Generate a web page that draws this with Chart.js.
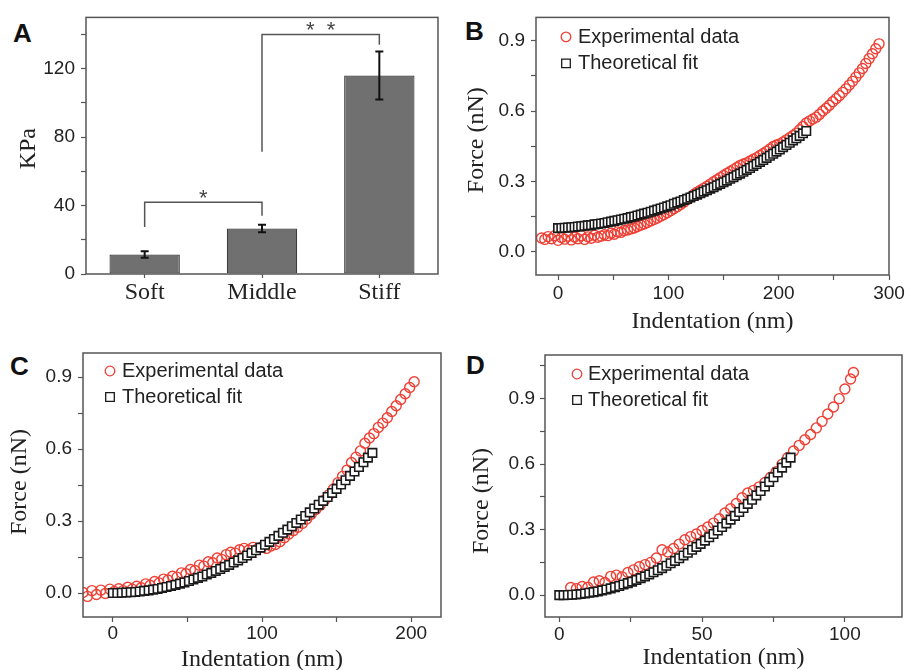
<!DOCTYPE html>
<html>
<head>
<meta charset="utf-8">
<script src="https://cdn.jsdelivr.net/npm/chart.js@4/dist/chart.umd.min.js"></script>
<style>
  html, body { margin: 0; padding: 0; background: #fff; width: 905px; height: 670px; overflow: hidden; }
  canvas { position: absolute; }
  .tag { position: absolute; font: bold 26px "Liberation Sans", Arial, sans-serif; line-height: 1; color: #111; }
</style>
</head>
<body>
<div class="tag" style="left:13px;top:20px">A</div>
<div class="tag" style="left:465px;top:18px">B</div>
<div class="tag" style="left:10px;top:353px">C</div>
<div class="tag" style="left:466px;top:352px">D</div>

<canvas id="chartA" width="434" height="314" style="left:14px;top:0px"></canvas>
<canvas id="chartB" width="447" height="336" style="left:462px;top:0px"></canvas>
<canvas id="chartC" width="456" height="344" style="left:5px;top:330px"></canvas>
<canvas id="chartD" width="455" height="342" style="left:467px;top:330px"></canvas>

<script>
// Panel A - stiffness of the three substrates
const kpaCategories = ['Soft', 'Middle', 'Stiff'];
const kpaMean = [11.4, 26.6, 116];
const kpaError = [1.9, 2.2, 14];
const kpaTicks = [0, 20, 40, 60, 80, 100, 120, 140];
const kpaLabels = [0, 40, 80, 120];

// significance brackets (category pairs, bar-height values)
const sigPairs = [[0, 1], [1, 2]];
const sigTop = [42, 140];
const sigLegs = [[27.5, 34], [71.5, 134]];
const sigMarks = ['*', '*  *'];

// force axis, shared by B, C, D
const forceTicks = [0, 0.15, 0.3, 0.45, 0.6, 0.75, 0.9];
const forceTicksD = [0, 0.15, 0.3, 0.45, 0.6, 0.75, 0.9, 1.05];
const forceLabels = [0, 0.3, 0.6, 0.9];

// indentation axes
const bIndentTicks = [0, 50, 100, 150, 200, 250, 300];
const bIndentLabels = [0, 100, 200, 300];
const cIndentTicks = [0, 50, 100, 150, 200];
const cIndentLabels = [0, 100, 200];
const dIndentTicks = [0, 25, 50, 75, 100];
const dIndentLabels = [0, 50, 100];

const seriesNames = ['Experimental data', 'Theoretical fit'];

// Panel B  [indentation nm, force nN]
const bExperimental = [
  [-15,.058],[-12,.052],[-9,.064],[-6,.055],[-3,.068],[0,.048],[3,.060],[6,.053],[9,.066],[12,.050],
  [15,.062],[18,.055],[21,.068],[24,.052],[27,.063],[30,.057],[33,.070],[36,.061],[39,.066],[42,.072],
  [45,.068],[48,.078],[51,.074],[54,.084],[57,.082],[60,.090],[63,.092],[66,.097],[69,.101],[72,.107],
  [75,.113],[78,.118],[81,.124],[84,.131],[87,.137],[90,.143],[93,.151],[96,.158],[99,.166],[102,.174],
  [105,.183],[108,.192],[111,.201],[114,.211],[117,.221],[120,.232],[123,.244],[126,.254],[129,.262],[132,.270],
  [135,.279],[138,.288],[141,.298],[144,.307],[147,.316],[150,.325],[153,.334],[156,.342],[159,.350],[162,.359],
  [165,.368],[168,.374],[171,.379],[174,.387],[177,.394],[180,.401],[183,.410],[186,.419],[189,.428],[192,.438],
  [195,.449],[198,.455],[201,.460],[204,.468],[207,.477],[210,.486],[213,.496],[216,.506],[219,.520],[222,.534],
  [225,.549],[228,.558],[231,.566],[234,.574],[237,.586],[240,.600],[243,.612],[246,.625],[249,.640],[252,.653],
  [255,.666],[258,.680],[261,.695],[264,.711],[267,.727],[270,.745],[273,.763],[276,.782],[279,.803],[282,.824],
  [285,.845],[288,.866],[291,.887]
];
const bTheoretical = [
  [0,.100],[3,.101],[6,.102],[9,.103],[12,.104],[15,.105],[18,.107],[21,.108],[24,.110],[27,.112],
  [30,.113],[33,.116],[36,.118],[39,.120],[42,.122],[45,.125],[48,.128],[51,.131],[54,.134],[57,.137],
  [60,.140],[63,.143],[66,.147],[69,.150],[72,.154],[75,.158],[78,.162],[81,.166],[84,.170],[87,.175],
  [90,.179],[93,.184],[96,.188],[99,.193],[102,.198],[105,.204],[108,.209],[111,.214],[114,.220],[117,.225],
  [120,.231],[123,.237],[126,.243],[129,.249],[132,.256],[135,.262],[138,.269],[141,.275],[144,.282],[147,.289],
  [150,.296],[153,.303],[156,.311],[159,.318],[162,.326],[165,.333],[168,.341],[171,.349],[174,.357],[177,.366],
  [180,.374],[183,.383],[186,.391],[189,.400],[192,.409],[195,.418],[198,.427],[201,.436],[204,.446],[207,.455],
  [210,.465],[213,.475],[216,.484],[219,.494],[222,.505],[225,.515]
];

// Panel C
const cExperimental = [
  [-20,.002],[-17,-.014],[-14,.010],[-11,-.006],[-8,.012],[-5,-.002],[-2,.016],[1,.006],[4,.018],[7,.010],
  [10,.024],[13,.016],[16,.028],[19,.022],[22,.038],[25,.032],[28,.048],[31,.042],[34,.058],[37,.054],
  [40,.070],[43,.066],[46,.084],[49,.080],[52,.098],[55,.094],[58,.116],[61,.112],[64,.130],[67,.126],
  [70,.146],[73,.140],[76,.160],[79,.170],[82,.166],[85,.180],[88,.186],[91,.178],[94,.190],[97,.184],
  [100,.192],[103,.186],[106,.196],[109,.202],[112,.214],[115,.230],[118,.246],[121,.260],[124,.274],[127,.290],
  [130,.308],[133,.328],[136,.348],[139,.366],[142,.388],[145,.410],[148,.434],[151,.460],[154,.486],[157,.512],
  [160,.544],[163,.566],[166,.592],[169,.624],[172,.646],[175,.664],[178,.690],[181,.708],[184,.730],[187,.756],
  [190,.780],[193,.806],[196,.830],[199,.856],[202,.880]
];
const cTheoretical = [
  [0,.000],[3,.000],[6,.001],[9,.002],[12,.003],[15,.004],[18,.006],[21,.009],[24,.011],[27,.014],
  [30,.017],[33,.021],[36,.025],[39,.029],[42,.034],[45,.039],[48,.044],[51,.050],[54,.056],[57,.063],
  [60,.069],[63,.077],[66,.084],[69,.092],[72,.100],[75,.109],[78,.117],[81,.127],[84,.136],[87,.146],
  [90,.156],[93,.167],[96,.178],[99,.189],[102,.201],[105,.213],[108,.225],[111,.238],[114,.251],[117,.264],
  [120,.278],[123,.292],[126,.306],[129,.321],[132,.336],[135,.352],[138,.368],[141,.384],[144,.400],[147,.417],
  [150,.434],[153,.452],[156,.470],[159,.488],[162,.506],[165,.525],[168,.545],[171,.564],[174,.584]
];

// Panel D
const dExperimental = [
  [4,.035],[6,.030],[8,.040],[10,.036],[12,.060],[14,.066],[16,.058],[18,.086],[20,.092],[22,.084],
  [24,.104],[26,.116],[28,.130],[30,.140],[32,.150],[34,.170],[36,.208],[38,.198],[40,.214],[42,.234],
  [44,.254],[46,.268],[48,.280],[50,.296],[52,.312],[54,.330],[56,.350],[58,.376],[60,.396],[62,.420],
  [64,.446],[66,.468],[68,.480],[70,.496],[72,.516],[74,.540],[76,.566],[78,.600],[80,.630],[82,.660],
  [84,.686],[86,.712],[88,.736],[90,.766],[92,.796],[94,.830],[96,.862],[98,.900],[100,.944],[102,.990],
  [103,1.020]
];
const dTheoretical = [
  [0,.000],[1.5,.000],[3,.001],[4.5,.002],[6,.003],[7.5,.005],[9,.008],[10.5,.011],[12,.014],[13.5,.017],
  [15,.022],[16.5,.026],[18,.031],[19.5,.037],[21,.042],[22.5,.049],[24,.055],[25.5,.062],[27,.070],[28.5,.078],
  [30,.086],[31.5,.095],[33,.105],[34.5,.114],[36,.124],[37.5,.135],[39,.146],[40.5,.157],[42,.169],[43.5,.182],
  [45,.194],[46.5,.208],[48,.221],[49.5,.235],[51,.250],[52.5,.265],[54,.280],[55.5,.296],[57,.312],[58.5,.329],
  [60,.346],[61.5,.363],[63,.381],[64.5,.399],[66,.418],[67.5,.437],[69,.457],[70.5,.477],[72,.498],[73.5,.519],
  [75,.540],[76.5,.562],[78,.584],[79.5,.607],[81,.630]
];

const SANS = '"Liberation Sans", Arial, sans-serif';
const SERIF = '"Liberation Serif", "Times New Roman", serif';
const INK = '#222';
const AXIS = '#555';
const RED = '#ee4035';

function toPoints(rows) {
    return rows.map(r => ({ x: r[0], y: r[1] }));
}

// box around the plot area, like the original figure
const frameBox = {
    id: 'frameBox',
    afterDatasetsDraw(chart) {
        const a = chart.chartArea;
        const ctx = chart.ctx;
        ctx.save();
        ctx.strokeStyle = AXIS;
        ctx.lineWidth = 1.5;
        ctx.strokeRect(a.left, a.top, a.right - a.left, a.bottom - a.top);
        ctx.restore();
    }
};

// legend drawn inside the plot, top left
const insideLegend = {
    id: 'insideLegend',
    afterDatasetsDraw(chart, args, opts) {
        if (!opts.show) return;
        const a = chart.chartArea;
        const ctx = chart.ctx;
        ctx.save();
        ctx.font = '20px ' + SANS;
        ctx.textBaseline = 'middle';
        chart.data.datasets.forEach((ds, i) => {
            const mx = a.left + opts.dx;
            const my = a.top + opts.dy + i * opts.gap;
            ctx.lineWidth = 1.3;
            ctx.strokeStyle = ds.borderColor;
            ctx.fillStyle = '#fff';
            ctx.beginPath();
            if (ds.pointStyle === 'circle') {
                ctx.arc(mx, my, 4.8, 0, Math.PI * 2);
            } else {
                ctx.rect(mx - 4.3, my - 4.3, 8.6, 8.6);
            }
            ctx.fill();
            ctx.stroke();
            ctx.fillStyle = INK;
            ctx.fillText(ds.label, mx + opts.textGap, my + 0.5);
        });
        ctx.restore();
    }
};

const errorBars = {
    id: 'errorBars',
    afterDatasetsDraw(chart) {
        const meta = chart.getDatasetMeta(0);
        const y = chart.scales.y;
        const ctx = chart.ctx;
        ctx.save();
        ctx.strokeStyle = '#111';
        ctx.lineWidth = 2;
        meta.data.forEach((bar, i) => {
            const top = y.getPixelForValue(kpaMean[i] + kpaError[i]);
            const bot = y.getPixelForValue(kpaMean[i] - kpaError[i]);
            ctx.beginPath();
            ctx.moveTo(bar.x, top); ctx.lineTo(bar.x, bot);
            ctx.moveTo(bar.x - 4, top); ctx.lineTo(bar.x + 4, top);
            ctx.moveTo(bar.x - 4, bot); ctx.lineTo(bar.x + 4, bot);
            ctx.stroke();
        });
        ctx.restore();
    }
};

const sigBrackets = {
    id: 'sigBrackets',
    afterDatasetsDraw(chart) {
        const x = chart.scales.x;
        const y = chart.scales.y;
        const ctx = chart.ctx;
        ctx.save();
        ctx.strokeStyle = AXIS;
        ctx.lineWidth = 1.5;
        ctx.fillStyle = '#444';
        ctx.font = '22px ' + SANS;
        ctx.textAlign = 'center';
        ctx.textBaseline = 'alphabetic';
        sigPairs.forEach((p, i) => {
            const xl = x.getPixelForValue(p[0]);
            const xr = x.getPixelForValue(p[1]);
            const yt = y.getPixelForValue(sigTop[i]);
            ctx.beginPath();
            ctx.moveTo(xl, y.getPixelForValue(sigLegs[i][0]));
            ctx.lineTo(xl, yt);
            ctx.lineTo(xr, yt);
            ctx.lineTo(xr, y.getPixelForValue(sigLegs[i][1]));
            ctx.stroke();
            ctx.fillText(sigMarks[i], (xl + xr) / 2, yt - 10 + 12.6);
        });
        ctx.restore();
    }
};

function axis(o) {
    const ticks = {
        autoSkip: false,
        maxRotation: 0,
        padding: o.pad,
        color: INK,
        font: o.font || { family: SANS, size: 19 }
    };
    if (o.label) ticks.callback = o.label;
    const ax = {
        type: o.type || 'linear',
        grid: { drawOnChartArea: false, drawTicks: true, tickLength: o.tick || 5, tickColor: AXIS, tickWidth: 1.2, offset: false },
        border: { display: false },
        ticks: ticks,
        title: o.title
            ? { display: true, text: o.title, color: INK, font: { family: SERIF, size: 24 }, padding: 0 }
            : { display: false },
        afterFit: o.fit
    };
    if (o.min !== undefined) { ax.min = o.min; ax.max = o.max; }
    if (o.values) {
        ax.afterBuildTicks = (s) => { s.ticks = o.values.map(v => ({ value: v })); };
    }
    return ax;
}

// Chart A
new Chart(document.getElementById('chartA'), {
    type: 'bar',
    data: {
        labels: kpaCategories,
        datasets: [{
            data: kpaMean,
            backgroundColor: '#707070',
            borderColor: '#3c3c3c',
            borderWidth: 1.2,
            borderSkipped: false,
            barPercentage: 0.6,
            categoryPercentage: 1.0
        }]
    },
    options: {
        responsive: false,
        animation: false,
        events: [],
        layout: { padding: { top: 15, right: 10, left: 0, bottom: 0 } },
        plugins: { legend: { display: false }, tooltip: { enabled: false } },
        scales: {
            x: axis({ type: 'category', pad: 0, tick: 4, font: { family: SERIF, size: 24 },
                      fit: (s) => { s.height = 40; } }),
            y: axis({ min: 0, max: 150, values: kpaTicks, pad: 6, title: 'KPa ',
                      label: (v) => (kpaLabels.includes(v) ? String(v) : ''),
                      fit: (s) => { s.width = 72; } })
        }
    },
    plugins: [frameBox, errorBars, sigBrackets]
});

function forceChart(id, exp, fit, cfg) {
    new Chart(document.getElementById(id), {
        type: 'scatter',
        data: {
            datasets: [{
                label: seriesNames[0],
                data: toPoints(exp),
                pointStyle: 'circle',
                pointRadius: 5,
                borderWidth: 1.4,
                borderColor: RED,
                backgroundColor: 'rgba(255,255,255,0)',
                order: 2
            }, {
                label: seriesNames[1],
                data: toPoints(fit),
                pointStyle: 'rect',
                pointRadius: 6,
                borderWidth: 1.6,
                borderColor: '#1a1a1a',
                backgroundColor: '#fff',
                order: 1
            }]
        },
        options: {
            responsive: false,
            animation: false,
            events: [],
            layout: { padding: { top: cfg.top, right: 20, left: 0, bottom: 0 } },
            plugins: {
                legend: { display: false },
                tooltip: { enabled: false },
                insideLegend: cfg.legend
            },
            scales: {
                x: axis({ min: cfg.xMin, max: cfg.xMax, values: cfg.xTicks, pad: cfg.xPad,
                          title: 'Indentation (nm)',
                          label: (v) => (cfg.xLabels.includes(v) ? String(v) : ''),
                          fit: (s) => { s.height = cfg.xH; } }),
                y: axis({ min: -0.1, max: cfg.yMax, values: cfg.yTicks, pad: cfg.yPad,
                          title: cfg.yTitle,
                          label: (v) => (forceLabels.includes(v) ? v.toFixed(1) : ''),
                          fit: (s) => { s.width = cfg.yW; } })
            }
        },
        plugins: [frameBox, insideLegend]
    });
}

forceChart('chartB', bExperimental, bTheoretical, {
    top: 14, xMin: -20, xMax: 300, xTicks: bIndentTicks, xLabels: bIndentLabels, xPad: 2, xH: 61,
    yMax: 1.0, yTicks: forceTicks, yPad: 6, yW: 74, yTitle: '  Force (nN)',
    legend: { show: true, dx: 30, dy: 19.5, gap: 26.5, textGap: 12 }
});

forceChart('chartC', cExperimental, cTheoretical, {
    top: 23, xMin: -20, xMax: 220, xTicks: cIndentTicks, xLabels: cIndentLabels, xPad: 0, xH: 57,
    yMax: 1.0, yTicks: forceTicks, yPad: 6, yW: 78, yTitle: ' Force (nN)',
    legend: { show: true, dx: 27, dy: 18, gap: 26, textGap: 12 }
});

forceChart('chartD', dExperimental, dTheoretical, {
    top: 25, xMin: -5, xMax: 120, xTicks: dIndentTicks, xLabels: dIndentLabels, xPad: 1, xH: 55,
    yMax: 1.1, yTicks: forceTicksD, yPad: 5, yW: 78, yTitle: 'Force (nN)     ',
    legend: { show: true, dx: 32, dy: 19, gap: 26, textGap: 11 }
});
</script>
</body>
</html>
